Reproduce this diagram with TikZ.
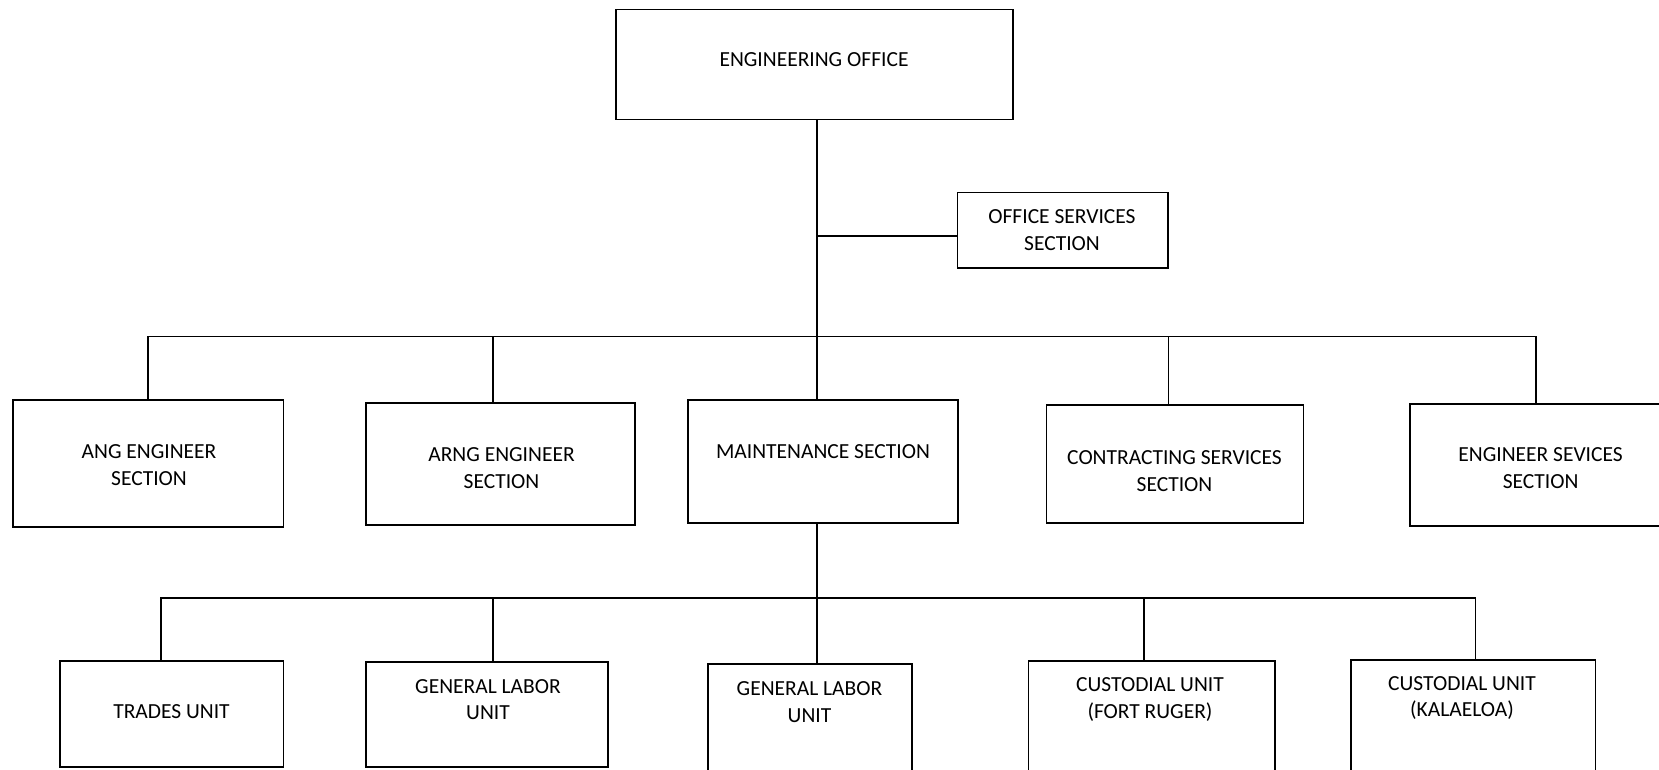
\documentclass[tikz,border=0pt]{standalone}
\usepackage{fontspec}
\setmainfont{Carlito}
\usetikzlibrary{fit}
\tikzset{
  box/.style={draw=black, line width=1.6pt, inner sep=0pt, fill=none},
  lbl/.style={align=center, font=\fontsize{21.5}{26.5}\selectfont, inner sep=0pt},
  conn/.style={draw=black, line width=1.6pt}
}
\begin{document}
\begin{tikzpicture}[x=1pt,y=-1pt]
\useasboundingbox (0,0) rectangle (1659,769);
\fill[white] (0,0) rectangle (1659,769);
\clip (0,0) rectangle (1659,769);
% boxes
\node[box, fit={(616,9.5) (1013,119.6)}] (eo) {};
\node[box, fit={(957.6,192.6) (1168,267.7)}] (os) {};
\node[box, fit={(12.7,400) (283.6,527)}] (ang) {};
\node[box, fit={(366,403) (635,525)}] (arng) {};
\node[box, fit={(688,400) (958,523)}] (maint) {};
\node[box, fit={(1046.5,405) (1303.6,523)}] (contr) {};
\node[box, fit={(1410,404) (1672,526)}] (es) {};
\node[box, fit={(60,661) (283.6,767)}] (trades) {};
\node[box, fit={(366,662) (608,767)}] (gla) {};
\node[box, fit={(708,664) (912,790)}] (glb) {};
\node[box, fit={(1028.5,661) (1275,790)}] (cfr) {};
\node[box, fit={(1351,660) (1595.6,790)}] (ck) {};
% labels
\node[lbl] (t-eo) at (814,60) {ENGINEERING OFFICE};
\node[lbl] (t-os) at (1062,230) {OFFICE SERVICES\\SECTION};
\node[lbl] (t-ang) at (149,465) {ANG ENGINEER\\SECTION};
\node[lbl] (t-arng) at (501.5,468) {ARNG ENGINEER\\SECTION};
\node[lbl] (t-maint) at (823,452) {MAINTENANCE SECTION};
\node[lbl] (t-contr) at (1174.5,471) {CONTRACTING SERVICES\\SECTION};
\node[lbl] (t-es) at (1540.6,468) {ENGINEER SEVICES\\SECTION};
\node[lbl] (t-trades) at (171.5,712) {TRADES UNIT};
\node[lbl] (t-gla) at (488,699.5) {GENERAL LABOR\\UNIT};
\node[lbl] (t-glb) at (809.5,702) {GENERAL LABOR\\UNIT};
\node[lbl] (t-cfr) at (1150,699.5) {CUSTODIAL UNIT\\(FORT RUGER)};
\node[lbl] (t-ck) at (1462,698) {CUSTODIAL UNIT\\(KALAELOA)};
% helper coordinates
\coordinate (bus2) at (0,336.5);
\coordinate (bus3) at (0,598);
\coordinate (trunk) at (817,0);
% connectors
\draw[conn] (trunk |- eo.south) -- (trunk |- maint.north);
\draw[conn] (trunk |- os.west) ++(0,6) -- ([yshift=-6pt]os.west);
\draw[conn] (ang.north) -- (ang.north |- bus2) -- ([xshift=-5pt]es.north |- bus2) -- ([xshift=-5pt]es.north);
\draw[conn] ([xshift=-7.5pt]arng.north) -- ([xshift=-7.5pt]arng.north |- bus2);
\draw[conn] ([xshift=-6.5pt]contr.north) -- ([xshift=-6.5pt]contr.north |- bus2);
\draw[conn] (trunk |- maint.south) -- (trunk |- glb.north);
\draw[conn] ([xshift=-11pt]trades.north) -- ([xshift=-11pt]trades.north |- bus3) -- ([xshift=2pt]ck.north |- bus3) -- ([xshift=2pt]ck.north);
\draw[conn] ([xshift=6pt]gla.north) -- ([xshift=6pt]gla.north |- bus3);
\draw[conn] ([xshift=-8pt]cfr.north) -- ([xshift=-8pt]cfr.north |- bus3);
\end{tikzpicture}
\end{document}
